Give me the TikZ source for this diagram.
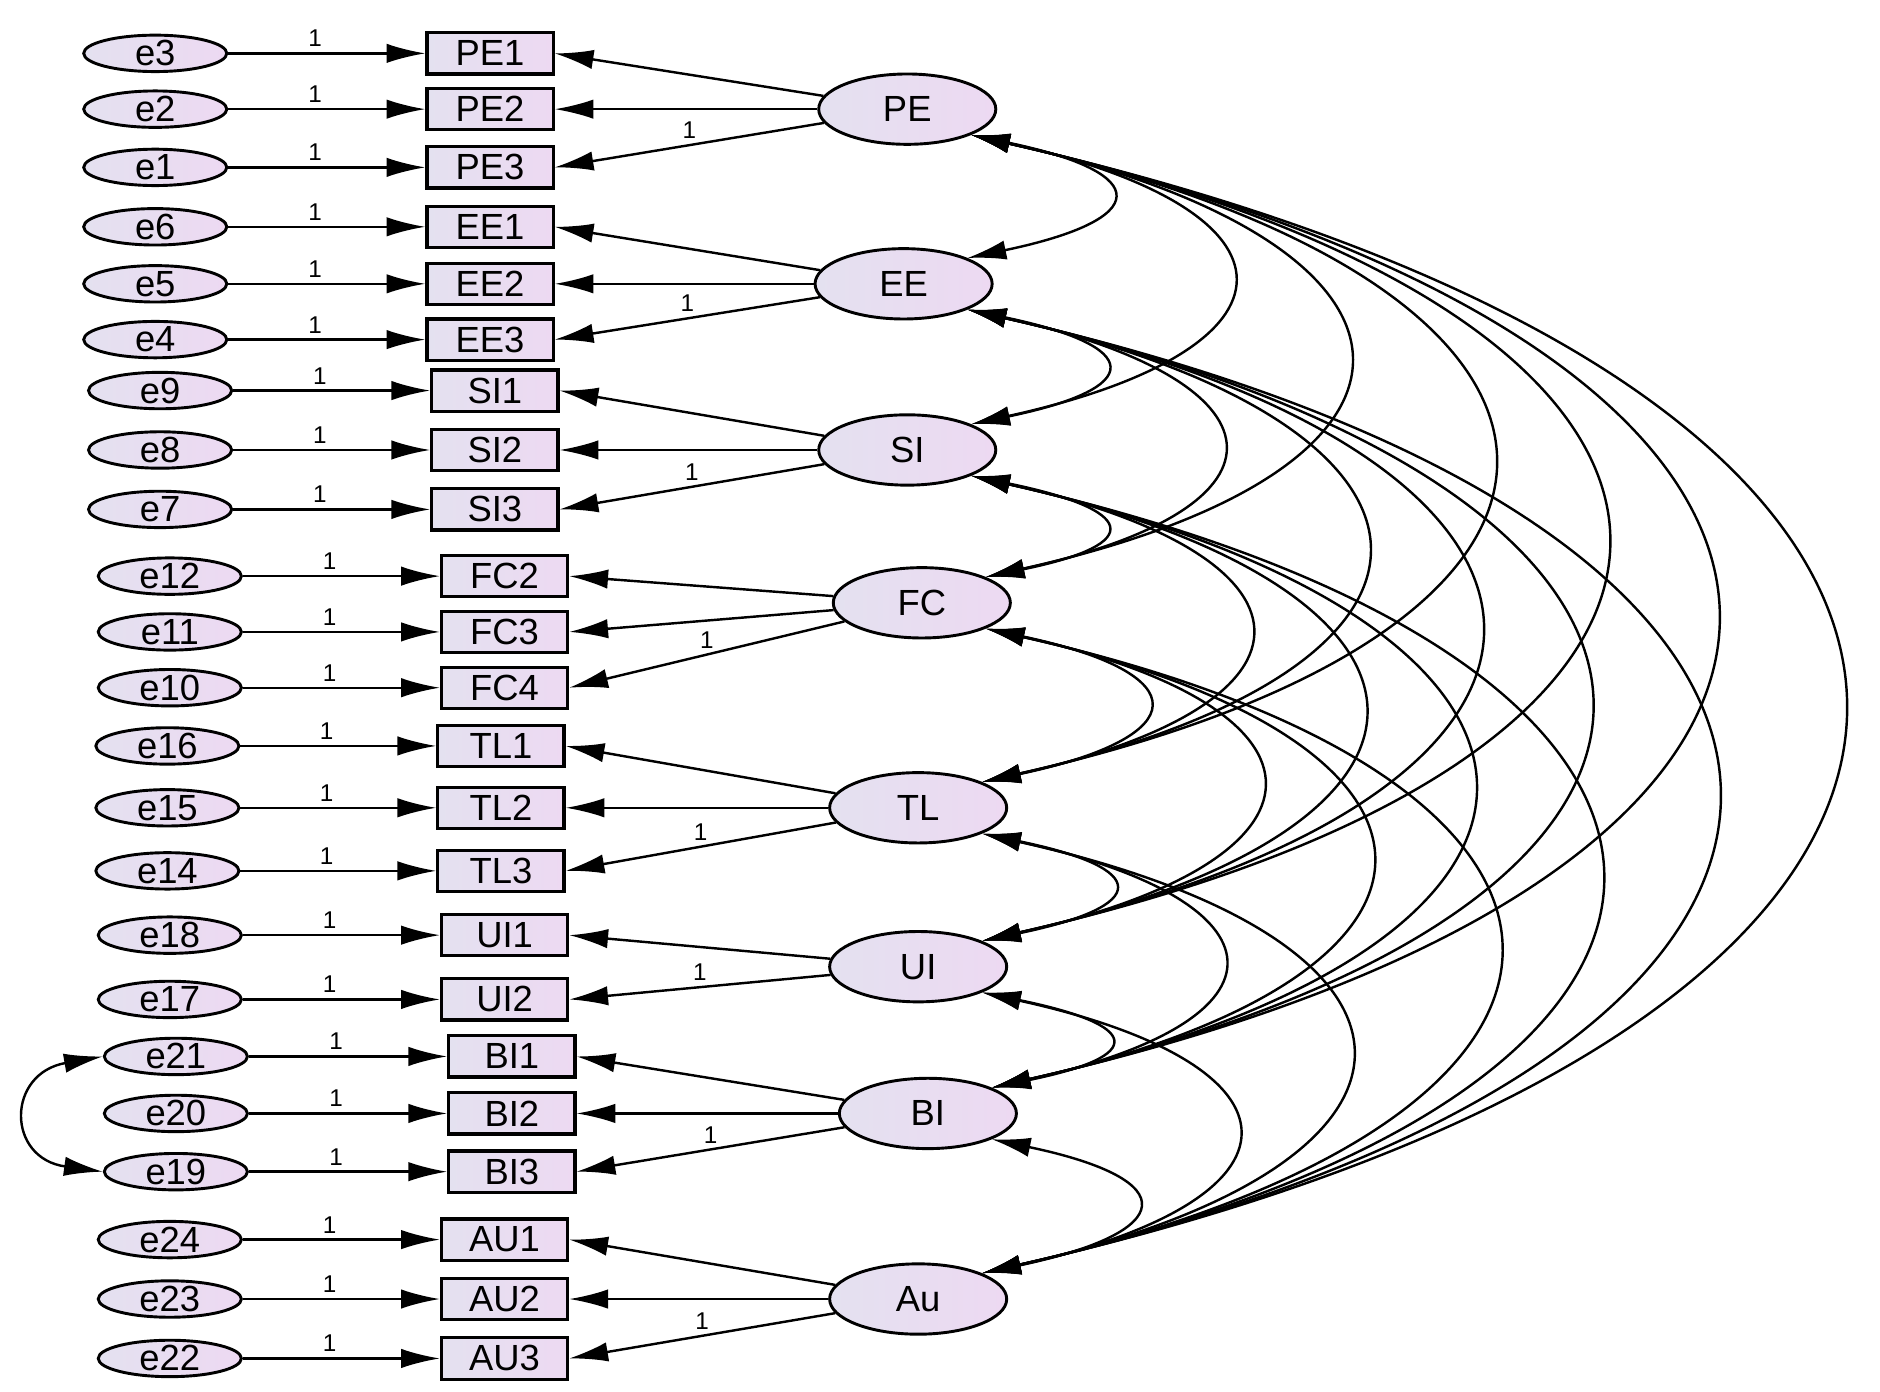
\documentclass[tikz,border=0pt]{standalone}
\usepackage{fontspec}
\setmainfont{Liberation Sans}
\usetikzlibrary{arrows.meta,shapes.geometric}
\begin{document}
\begin{tikzpicture}[x=1pt,y=-1pt,
  tip/.style={-{Latex[length=32pt,width=16pt]}},
  lat/.style={ellipse,draw,line width=2.4pt,minimum width=146pt,minimum height=58pt,left color=lavL,right color=lavR,font=\fontsize{30}{30}\selectfont,inner sep=0pt},
  err/.style={ellipse,draw,line width=2.4pt,minimum width=118pt,minimum height=30pt,left color=lavL,right color=lavR,font=\fontsize{30}{30}\selectfont,inner sep=0pt},
  obs/.style={rectangle,draw,line width=2.6pt,minimum width=104pt,minimum height=34pt,left color=lavL,right color=lavR,font=\fontsize{30}{30}\selectfont,inner sep=0pt},
  ln/.style={line width=2pt,tip},
  one/.style={font=\fontsize{20}{20}\selectfont,above=1pt},
  cov/.style={line width=2pt,{Latex[length=32pt,width=16pt]}-{Latex[length=32pt,width=16pt]}}]
\definecolor{lavL}{HTML}{E4E1F0}
\definecolor{lavR}{HTML}{EDD9F2}
\useasboundingbox (0,0) rectangle (1550,1147);
\foreach \n/\t/\x/\y in {L1/PE/748/90,L2/EE/745/234,L3/SI/748/371,L4/FC/760/497,L5/TL/757/666,L6/UI/757/797,L7/BI/765/918,L8/Au/757/1071}
  \node[lat] (\n) at (\x,\y) {\t};
\foreach \r/\e/\ex/\rx/\y/\l/\th in {
 PE1/e3/128/404/44/L1/0, PE2/e2/128/404/90/L1/0, PE3/e1/128/404/138/L1/1,
 EE1/e6/128/404/187/L2/0, EE2/e5/128/404/234/L2/0, EE3/e4/128/404/280/L2/1,
 SI1/e9/132/408/322/L3/0, SI2/e8/132/408/371/L3/0, SI3/e7/132/408/420/L3/1,
 FC2/e12/140/416/475/L4/0, FC3/e11/140/416/521/L4/0, FC4/e10/140/416/567/L4/1,
 TL1/e16/138/413/615/L5/0, TL2/e15/138/413/666/L5/0, TL3/e14/138/413/718/L5/1,
 UI1/e18/140/416/771/L6/0, UI2/e17/140/416/824/L6/1,
 BI1/e21/145/422/871/L7/0, BI2/e20/145/422/918/L7/0, BI3/e19/145/422/966/L7/1,
 AU1/e24/140/416/1022/L8/0, AU2/e23/140/416/1071/L8/0, AU3/e22/140/416/1120/L8/1}{
  \node[obs] (\r) at (\rx,\y) {\r};
  \node[err] (\e) at (\ex,\y) {\e};
  \draw[ln] (\e) -- node[one,pos=0.44]{1} (\r);
  \ifnum\th=1
    \draw[ln] (\l) -- node[one,pos=0.5]{1} (\r.east);
  \else
    \draw[ln] (\l) -- (\r.east);
  \fi
}
\draw[cov] (e21.west) .. controls (5,885) and (5,955) .. (e19.west);
\def\ys{{90,234,371,497,666,797,918,1071}}
\foreach \i in {1,...,7}{
  \pgfmathtruncatemacro{\ni}{\i+1}
  \foreach \j in {\ni,...,8}{
    \pgfmathsetmacro{\d}{\ys[\j-1]-\ys[\i-1]}
    \pgfmathsetmacro{\c}{0.95*\d+15}
    \pgfmathsetmacro{\v}{0.22*\d}
    \draw[cov] (L\i.-22) .. controls +(\c,\v) and +(\c,-\v) .. (L\j.22);
  }
}
\end{tikzpicture}
\end{document}
